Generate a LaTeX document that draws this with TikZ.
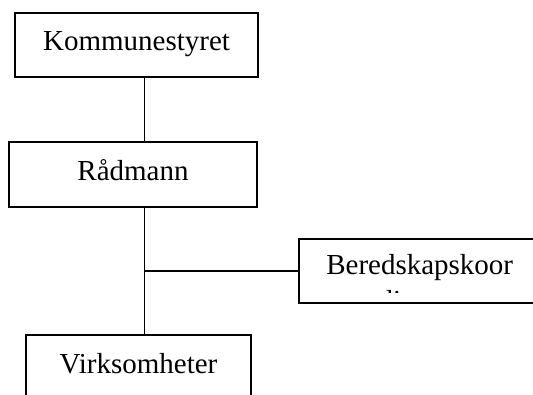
\documentclass[tikz,border=0pt]{standalone}
\usepackage{fontspec}
\setmainfont{Liberation Serif}
\begin{document}
\begin{tikzpicture}[x=1pt,y=1pt,
  orgbox/.style={draw=black, line width=1.3pt, rectangle, inner sep=0pt,
    font=\fontsize{29}{35}\selectfont, text height=20pt, text depth=8pt},
  link/.style={draw=black, line width=1.3pt}]
\useasboundingbox (0,0) rectangle (533,394);
\clip (0,0) rectangle (533,394);
\node[orgbox, minimum width=243pt, minimum height=64pt] (k) at (136.5,349) {Kommunestyret};
\node[orgbox, minimum width=248pt, minimum height=65pt] (r) at (133,219.5) {Rådmann};
\node[orgbox, minimum width=241pt, minimum height=64pt] (b) at (419.5,123) {};
\node[orgbox, minimum width=225pt, minimum height=65pt] (v) at (138.5,26.5) {Virksomheter};
\begin{scope}
  \clip (300,101) rectangle (533,154);
  \node[anchor=base, font=\fontsize{29}{35}\selectfont, inner sep=0pt] (bt1) at (419.7,119) {Beredskapskoor};
  \node[anchor=base, font=\fontsize{29}{35}\selectfont, inner sep=0pt] (bt2) at (419.7,84) {dinator};
\end{scope}
\draw[link] ([xshift=8pt]k.south) -- ([xshift=8pt]k.south |- r.north);
\coordinate (t) at ([xshift=11.3pt]r.south);
\draw[link] (t) -- (t |- v.north);
\draw[link] (b.west) -- (b.west -| t);
\end{tikzpicture}
\end{document}
